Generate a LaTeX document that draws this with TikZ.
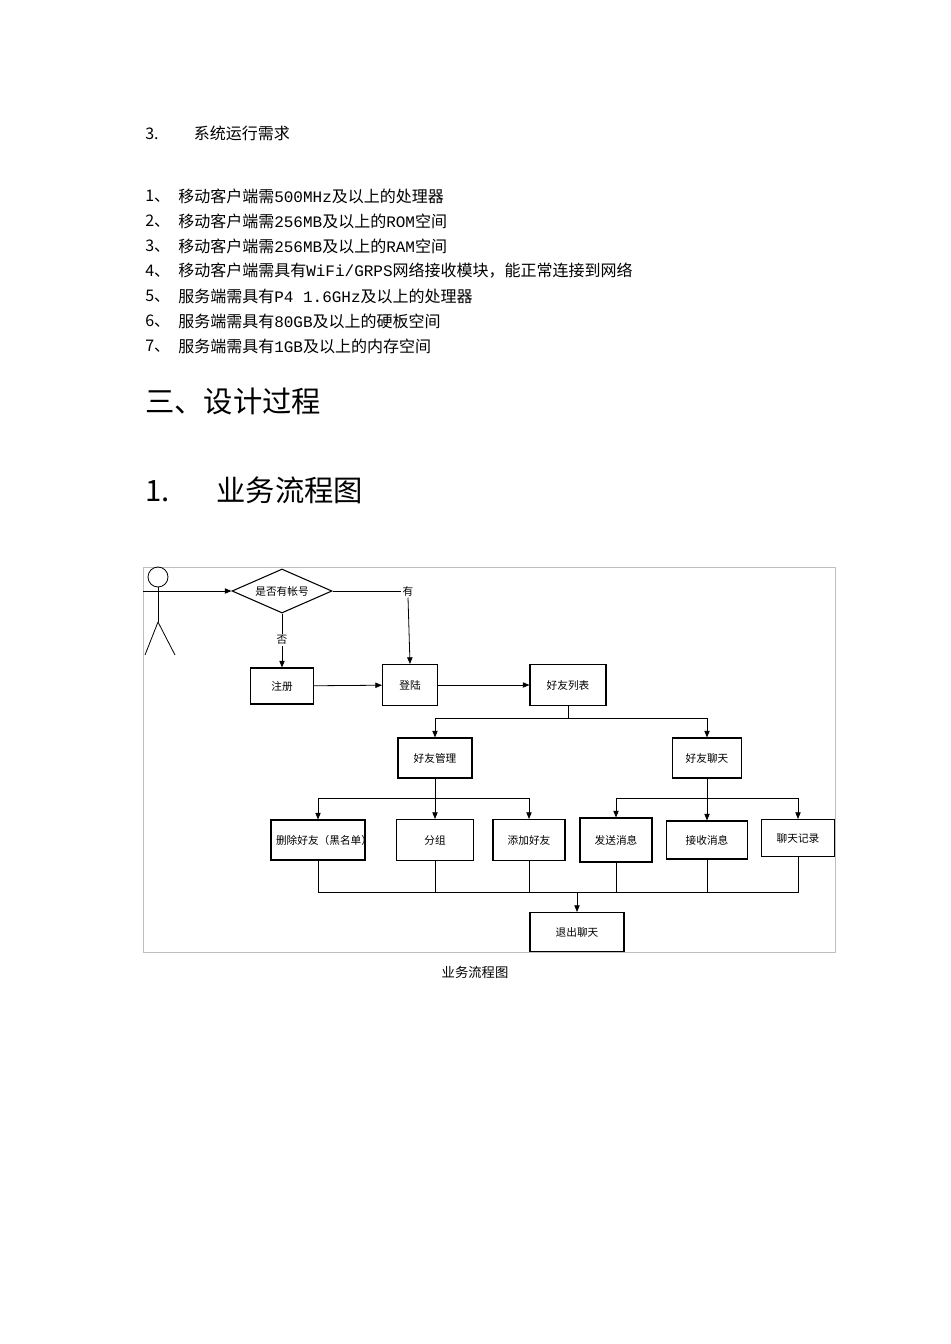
\documentclass[tikz,border=0pt]{standalone}
\usepackage{fontspec}
\setmainfont{Noto Sans CJK SC}
\newfontfamily\lat{Liberation Mono}
\usetikzlibrary{shapes.geometric,arrows.meta}
\begin{document}
\begin{tikzpicture}[x=0.75pt,y=-0.75pt,
  bx/.style={draw,line width=0.8pt,font=\fontsize{8}{9}\selectfont,inner sep=1pt,align=center},
  ar/.style={-{Triangle[length=5pt,width=4pt]},line width=0.6pt},
  ln/.style={line width=0.6pt},
  tx/.style={anchor=west,inner sep=0pt,font=\fontsize{12}{14}\selectfont}]
\useasboundingbox (0,0) rectangle (950,1344);
\node[tx] (h3) at (145,133) {3.\hspace{2.2em}系统运行需求};
\foreach \i/\t in {1/移动客户端需{\lat 500MHz}及以上的处理器,2/移动客户端需{\lat 256MB}及以上的{\lat ROM}空间,3/移动客户端需{\lat 256MB}及以上的{\lat RAM}空间,4/移动客户端需具有{\lat WiFi/GRPS}网络接收模块，能正常连接到网络,5/服务端需具有{\lat P4 1.6GHz}及以上的处理器,6/服务端需具有{\lat 80GB}及以上的硬板空间,7/服务端需具有{\lat 1GB}及以上的内存空间}{
  \node[tx] (n\i) at (145,{171+25*\i}) {\i、};
  \node[tx] (t\i) at (178,{171+25*\i}) {\t};
}
\node[tx,font=\fontsize{22}{26}\selectfont] (s3) at (145,401) {三、设计过程};
\node[tx,font=\fontsize{22}{26}\selectfont] (s1) at (145,490) {1.\hspace{1.6em}业务流程图};
% frame
\draw[gray!50,line width=0.6pt] (143,567) rectangle (835,952);
% stick figure
\node[draw,circle,minimum size=20*0.75pt,inner sep=0pt,line width=0.6pt] (head) at (158,577) {};
\coordinate (hip) at (158,622);
\draw[ln] (head.south) -- (hip);
\draw[ln] (hip) -- (145,655) (hip) -- (175,655);
\coordinate (armL) at (143,591);
\node[draw,diamond,aspect=2.3,minimum width=100*0.75pt,minimum height=44*0.75pt,inner sep=0pt,line width=0.8pt,font=\fontsize{8}{9}\selectfont] (q) at (282,591) {是否有帐号};
\draw[ln] (armL) -- (192,591);
\draw[ar] (192,591) -- (q.west);
\node[bx,minimum width=63*0.75pt,minimum height=36*0.75pt] (reg) at (282,686) {注册};
\node[bx,minimum width=55*0.75pt,minimum height=41*0.75pt] (login) at (410,685) {登陆};
\node[bx,minimum width=76*0.75pt,minimum height=41*0.75pt] (fl) at (568,685) {好友列表};
\node[bx,minimum width=74*0.75pt,minimum height=40*0.75pt] (fm) at (435,758) {好友管理};
\node[bx,minimum width=69*0.75pt,minimum height=40*0.75pt] (fc) at (707,758) {好友聊天};
\node[bx,minimum width=94*0.75pt,minimum height=40*0.75pt,text width=84*0.75pt] (del) at (318,840) {删除好友（黑名单）};
\node[bx,minimum width=77*0.75pt,minimum height=41*0.75pt] (grp) at (435,840) {分组};
\node[bx,minimum width=72*0.75pt,minimum height=41*0.75pt] (add) at (529,840) {添加好友};
\node[bx,minimum width=72*0.75pt,minimum height=44*0.75pt] (snd) at (616,840) {发送消息};
\node[bx,minimum width=81*0.75pt,minimum height=38*0.75pt] (rcv) at (707,840) {接收消息};
\node[bx,minimum width=73*0.75pt,minimum height=37*0.75pt] (his) at (798,838) {聊天记录};
\node[bx,minimum width=94*0.75pt,minimum height=39*0.75pt] (quit) at (577,932) {退出聊天};
% labels
\node[font=\fontsize{8}{9}\selectfont,inner sep=1pt] (yes) at (408,591) {有};
\node[font=\fontsize{8}{9}\selectfont,inner sep=1pt] (no) at (282,640) {否};
\draw[ln] (q.east) -- (yes.west);
\draw[ar] (yes.south) -- (login.north);
\draw[ln] (q.south) -- (no.north);
\draw[ar] (no.south) -- (reg.north);
\draw[ar] (reg) -- (login);
\draw[ar] (login) -- (fl);
\coordinate (b1) at (568,718);
\draw[ln] (fl.south) -- (b1);
\draw[ar] (b1) -| (fm.north);
\draw[ar] (b1) -| (fc.north);
\coordinate (b2) at (435,798);
\draw[ar] (fm.south) -- (grp.north);
\draw[ar] (b2) -| (del.north);
\draw[ar] (b2) -| (add.north);
\coordinate (b3) at (707,798);
\draw[ar] (fc.south) -- (rcv.north);
\draw[ar] (b3) -| (snd.north);
\draw[ar] (b3) -| (his.north);
\coordinate (bus) at (577,892);
\foreach \n in {del,grp,add,snd,rcv,his}{\draw[ln] (\n.south) |- (bus);}
\draw[ar] (bus) -- (quit.north);
\node[font=\fontsize{10}{12}\selectfont] (cap) at (475,972) {业务流程图};
\end{tikzpicture}
\end{document}
